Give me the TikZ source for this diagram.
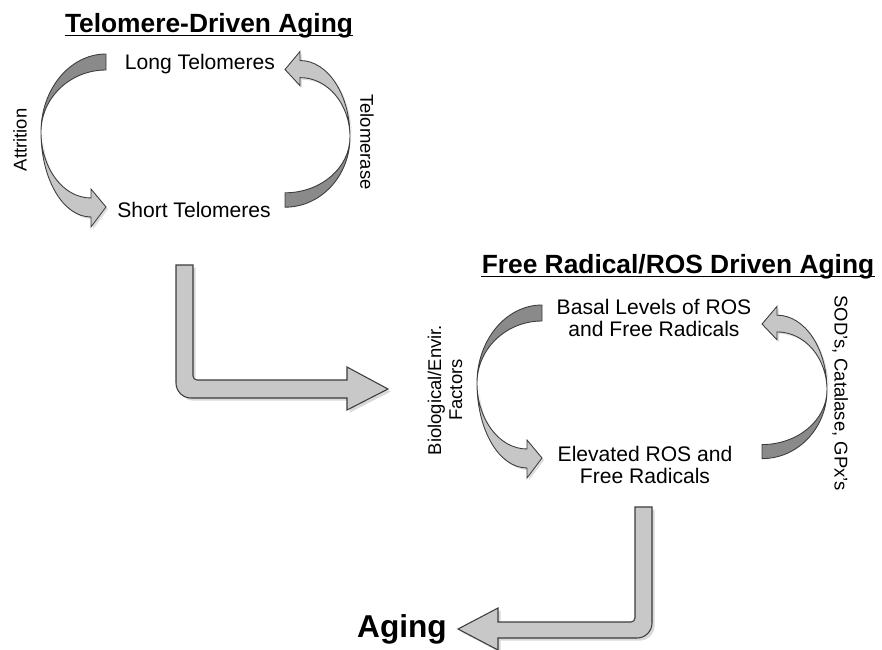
\documentclass[tikz,border=0pt]{standalone}
\usepackage{fontspec}
\setmainfont{Liberation Sans}
\usetikzlibrary{shadows}
\usetikzlibrary{positioning}

\definecolor{bandback}{RGB}{138,138,138}
\definecolor{bandfront}{RGB}{198,198,198}
\definecolor{bandedge}{RGB}{60,60,60}
\definecolor{pipefill}{RGB}{200,200,200}

\tikzset{
  backband/.style={fill=bandback, draw=bandedge, line width=0.5pt},
  frontband/.style={fill=bandfront, draw=bandedge, line width=0.5pt,
    drop shadow={opacity=0.25, shadow xshift=1.2pt, shadow yshift=-1.2pt}},
  pipearrow/.style={fill=pipefill, draw=bandedge, line width=0.6pt,
    drop shadow={opacity=0.3, shadow xshift=1.5pt, shadow yshift=-1.5pt}},
  title/.style={font=\fontsize{15}{18}\selectfont\bfseries, inner sep=0pt, anchor=base},
  state/.style={font=\fontsize{12}{13}\selectfont, align=center},
  side/.style={font=\fontsize{10.5}{12}\selectfont, align=center},
  % curved arrow, origin at its outermost point
  curvearrow/.pic={
    \path[backband] (65,-78) .. controls (29,-78) and (0,-43) .. (0,0)
      .. controls (0,-34) and (29,-62) .. (65,-62) -- cycle;
    \path[frontband] (0,0) .. controls (0,47) and (22,85) .. (50,85)
      -- (50,95) -- (65,75) -- (50,57) -- (50,66)
      .. controls (22,66) and (0,36) .. (0,0) -- cycle;
  }
}

\begin{document}
\begin{tikzpicture}[x=0.02cm, y=-0.02cm]
\useasboundingbox (0,0) rectangle (882,649);

% telomere loop
\node[title] (telo) at (209,32) {Telomere-Driven Aging};
\draw[line width=1.1pt] ([yshift=-2pt]telo.base west) -- ([yshift=-2pt]telo.base east);
\node[state] (long) at (200,64) {Long Telomeres};
\node[state] (short) at (194,210) {Short Telomeres};
\node[side, rotate=90] (attr) at (20,140) {Attrition};
\node[side, rotate=-90] (telase) at (367,142) {Telomerase};
\pic at (41,132) {curvearrow};
\pic[rotate=180, yscale=0.9] at (350,137) {curvearrow};

% telomere -> ROS
\draw[pipearrow] (176,265) -- (193,265) -- (193,376) arc[start angle=180, end angle=90, radius=4]
  -- (347,380) -- (347,367) -- (388,389) -- (347,410) -- (347,398) -- (191,398)
  arc[start angle=90, end angle=180, radius=15] -- cycle;

% ROS loop
\node[title] (ros) at (678,273) {Free Radical/ROS Driven Aging};
\draw[line width=1.1pt] ([yshift=-2pt]ros.base west) -- ([yshift=-2pt]ros.base east);
\node[state] (basal) at (654,318) {Basal Levels of ROS\\and Free Radicals};
\node[state] (elev) at (645,465) {Elevated ROS and\\Free Radicals};
\node[side, rotate=90] (factors) at (445,390) {Biological/Envir.\\Factors};
\node[side, rotate=-90] (enz) at (840,393) {SOD’s, Catalase, GPx’s};
\pic at (477,383) {curvearrow};
\pic[rotate=180, yscale=0.88] at (827,390) {curvearrow};

% ROS -> aging
\draw[pipearrow] (635,507) -- (652,507) -- (652,623) arc[start angle=0, end angle=90, radius=15]
  -- (498,638) -- (498,650) -- (458,629) -- (498,608) -- (498,622) -- (631,622)
  arc[start angle=90, end angle=0, radius=4] -- cycle;
\node[font=\fontsize{18}{20}\selectfont\bfseries, anchor=base] (aging) at (402,637) {Aging};
\end{tikzpicture}
\end{document}
